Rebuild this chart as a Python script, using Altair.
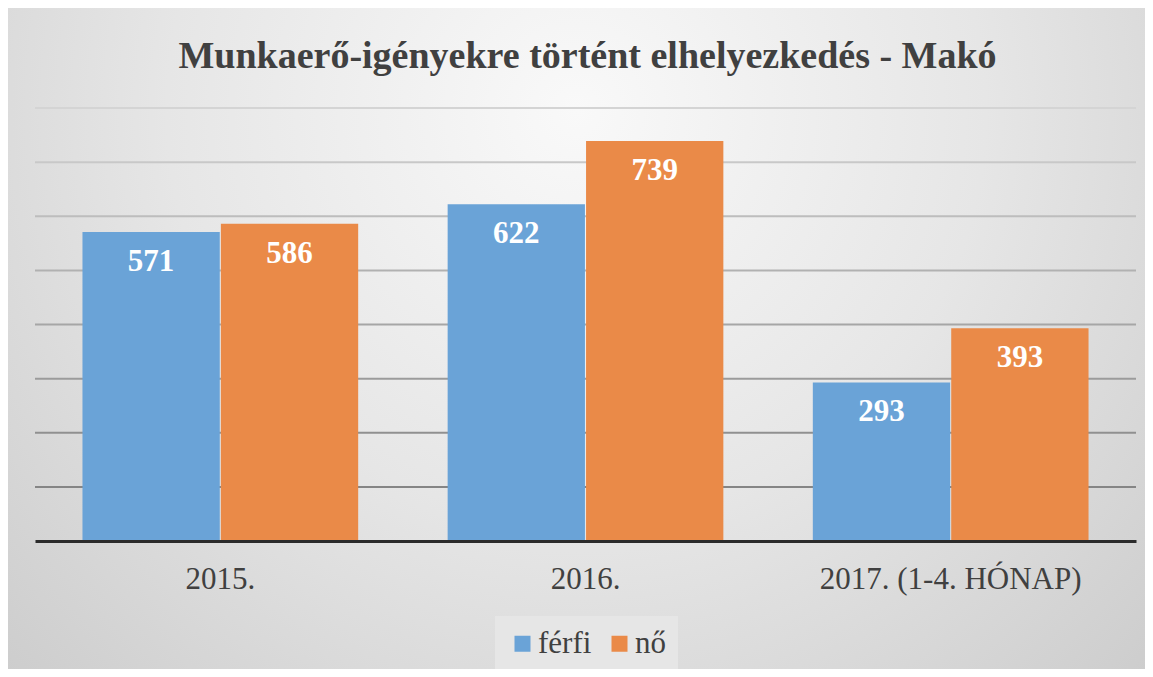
import altair as alt
import pandas as pd

# ---- data ----
title_text = "Munkaerő-igényekre történt elhelyezkedés - Makó"
categories = ["2015.", "2016.", "2017. (1-4. HÓNAP)"]
series_names = ["férfi", "nő"]
ferfi = [571, 622, 293]
no = [586, 739, 393]
grid_values = [100, 200, 300, 400, 500, 600, 700, 800]

rows = []
for c, f, n in zip(categories, ferfi, no):
    rows.append({"kategoria": c, "nem": series_names[0], "ertek": f})
    rows.append({"kategoria": c, "nem": series_names[1], "ertek": n})
df = pd.DataFrame(rows)
grid_df = pd.DataFrame({"v": grid_values})

W, H = 1101, 433
PL, PT, PR, PB = 27, 100, 9, 128
FONT = "Liberation Serif, Times New Roman, serif"
TEXT = "#404040"
BLUE = "#6aa3d7"
ORANGE = "#ea8a48"

y_scale = alt.Scale(domain=[0, 800], nice=False, zero=True)
x_enc = alt.X(
    "kategoria:N",
    sort=categories,
    scale=alt.Scale(paddingInner=0.245, paddingOuter=0.13),
    axis=alt.Axis(
        title=None, labelFont=FONT, labelFontSize=31, labelColor=TEXT,
        labelPadding=23, ticks=False, domainColor="#2b2b2b", domainWidth=3,
        labelAngle=0, zindex=1, grid=False, labelLimit=0,
    ),
)
xoff_enc = alt.XOffset("nem:N", sort=series_names, scale=alt.Scale(paddingInner=0.008))

bg = alt.Chart(alt.Data(values=[{"a": 1}])).mark_rect(
    fill=alt.Gradient(
        gradient="radial",
        stops=[
            alt.GradientStop(color="#f9f9f9", offset=0),
            alt.GradientStop(color="#e6e6e6", offset=0.45),
            alt.GradientStop(color="#c6c6c6", offset=1),
        ],
        x1=0.5, y1=0.3, r1=0, x2=0.5, y2=0.3, r2=0.8,
    )
).encode(
    x=alt.value(-PL), x2=alt.value(W + PR),
    y=alt.value(-PT), y2=alt.value(H + PB),
)

title = alt.Chart(alt.Data(values=[{"t": title_text}])).mark_text(
    font=FONT, fontSize=38, fontWeight="bold", color=TEXT,
    baseline="alphabetic", align="center",
).encode(
    text="t:N", x=alt.value(W / 2 + 2), y=alt.value(-40),
)

grid = alt.Chart(grid_df).mark_rule(strokeWidth=2).encode(
    y=alt.Y("v:Q", scale=y_scale, axis=None),
    x=alt.value(0), x2=alt.value(W),
    stroke=alt.Stroke(
        "v:Q",
        scale=alt.Scale(domain=[100, 800], range=["#858585", "#d4d4d4"]),
        legend=None,
    ),
)

bars = alt.Chart(df).mark_bar().encode(
    x=x_enc,
    xOffset=xoff_enc,
    y=alt.Y("ertek:Q", scale=y_scale, axis=None),
    color=alt.Color(
        "nem:N",
        sort=series_names,
        scale=alt.Scale(domain=series_names, range=[BLUE, ORANGE]),
        legend=alt.Legend(
            orient="none", legendX=460, legendY=508, direction="horizontal",
            title=None, symbolType="square", symbolSize=256, symbolStrokeWidth=0,
            labelFont=FONT, labelFontSize=31, labelColor=TEXT, labelOffset=0,
            columnPadding=12, padding=12, fillColor="#e6e6e6",
        ),
    ),
)

labels = alt.Chart(df).mark_text(
    font=FONT, fontSize=31, fontWeight="bold", color="white",
    baseline="middle", dy=30,
).encode(
    x=x_enc,
    xOffset=xoff_enc,
    y=alt.Y("ertek:Q", scale=y_scale, axis=None),
    text="ertek:Q",
)

chart = alt.layer(bg, title, grid, bars, labels).properties(
    width=W, height=H,
    autosize=alt.AutoSizeParams(type="none"),
    padding={"left": PL, "top": PT, "right": PR, "bottom": PB},
    background="#dcdcdc",
).configure_view(stroke=None)

chart.save("out.html", embed_options={"renderer": "svg", "actions": False})
